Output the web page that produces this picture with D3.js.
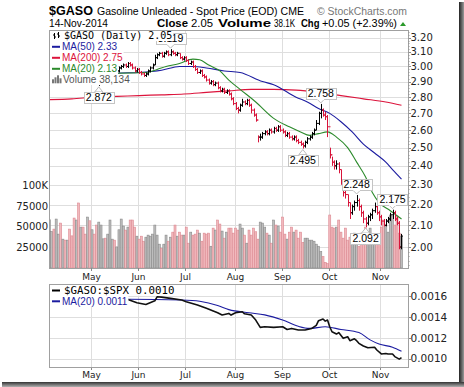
<!DOCTYPE html>
<html><head><meta charset="utf-8">
<script src="https://cdn.jsdelivr.net/npm/d3@7"></script>
<style>body{margin:0;background:#fff}svg{display:block}</style>
</head><body>
<svg id="c" width="464" height="387"></svg>
<script>
// ---------- DATA ----------
const monthLabels = ["May","Jun","Jul","Aug","Sep","Oct","Nov"];
const monthStartDay = [19,40,61,83,104,125,148];   // trading-day index of first session of month
const priceTicks = [2.00,2.10,2.20,2.30,2.40,2.50,2.60,2.70,2.80,2.90,3.00,3.10,3.20];
const volumeTicks = [25,50,75,100];                 // thousands
const volumeTickLabels = ["25000","50000","75000","100K"];
const ratioTicks = [0.0010,0.0012,0.0014,0.0016];

const close = [2.98,3.00,2.99,3.02,3.03,3.01,3.04,3.02,3.05,3.03,
3.00,2.98,2.99,2.96,2.97,2.95,2.93,2.94,2.92,2.93,
2.91,2.90,2.90,2.92,2.94,2.93,2.95,2.96,2.98,2.97,
2.97,2.99,3.00,3.01,3.00,3.02,3.01,2.99,2.97,2.98,
2.96,2.95,2.94,2.95,2.97,2.99,3.01,3.06,3.08,3.09,
3.07,3.09,3.10,3.08,3.10,3.09,3.08,3.09,3.06,3.05,
3.06,3.04,3.02,3.03,3.00,2.98,2.96,2.97,2.94,2.93,
2.91,2.89,2.90,2.88,2.89,2.86,2.84,2.85,2.83,2.84,
2.82,2.79,2.76,2.73,2.72,2.75,2.77,2.76,2.78,2.75,
2.72,2.69,2.66,2.56,2.56,2.58,2.59,2.58,2.60,2.59,
2.61,2.60,2.62,2.60,2.59,2.57,2.58,2.56,2.55,2.56,
2.54,2.53,2.52,2.51,2.53,2.55,2.56,2.58,2.60,2.64,
2.70,2.72,2.69,2.68,2.62,2.46,2.42,2.40,2.41,2.38,
2.32,2.26,2.25,2.21,2.16,2.19,2.21,2.22,2.19,2.16,
2.13,2.11,2.14,2.15,2.17,2.19,2.16,2.14,2.12,2.10,
2.12,2.13,2.15,2.16,2.13,2.11,2.00,2.05];

const high = [2.99,3.01,3.01,3.03,3.04,3.04,3.05,3.05,3.06,3.06,
3.04,3.01,3.00,3.00,2.98,2.98,2.96,2.95,2.95,2.94,
2.94,2.92,2.91,2.93,2.95,2.95,2.96,2.97,2.99,2.99,
2.99,3.00,3.01,3.02,3.02,3.03,3.03,3.02,3.00,2.99,
2.99,2.97,2.96,2.96,2.98,3.00,3.02,3.08,3.09,3.10,
3.10,3.10,3.11,3.11,3.119,3.11,3.10,3.10,3.09,3.07,
3.07,3.07,3.05,3.04,3.04,3.01,2.99,2.98,2.98,2.95,
2.94,2.92,2.91,2.91,2.90,2.90,2.87,2.86,2.86,2.85,
2.85,2.83,2.80,2.77,2.74,2.76,2.79,2.78,2.79,2.79,
2.76,2.73,2.70,2.57,2.58,2.59,2.60,2.60,2.61,2.61,
2.62,2.62,2.63,2.63,2.61,2.60,2.59,2.59,2.57,2.57,
2.57,2.55,2.54,2.53,2.54,2.56,2.57,2.59,2.61,2.66,
2.71,2.758,2.73,2.71,2.69,2.50,2.45,2.43,2.43,2.42,
2.38,2.33,2.27,2.25,2.21,2.20,2.22,2.248,2.23,2.20,
2.17,2.14,2.15,2.16,2.18,2.21,2.20,2.17,2.15,2.13,
2.13,2.14,2.16,2.175,2.17,2.14,2.12,2.06];

const low = [2.96,2.97,2.98,2.98,3.01,3.00,3.00,3.01,3.01,3.02,
2.99,2.97,2.97,2.95,2.95,2.94,2.92,2.92,2.91,2.91,
2.90,2.885,2.872,2.89,2.91,2.92,2.92,2.94,2.95,2.96,
2.96,2.96,2.98,2.99,2.99,2.99,3.00,2.98,2.96,2.96,
2.95,2.94,2.93,2.93,2.94,2.96,2.98,3.01,3.05,3.07,
3.06,3.06,3.08,3.07,3.07,3.08,3.07,3.07,3.05,3.04,
3.04,3.03,3.01,3.01,2.99,2.97,2.95,2.95,2.93,2.92,
2.90,2.88,2.88,2.87,2.87,2.85,2.83,2.83,2.82,2.82,
2.81,2.78,2.75,2.72,2.70,2.71,2.74,2.75,2.75,2.74,
2.70,2.68,2.65,2.53,2.54,2.55,2.57,2.57,2.57,2.58,
2.58,2.59,2.59,2.59,2.58,2.56,2.56,2.55,2.54,2.54,
2.53,2.52,2.51,2.495,2.50,2.52,2.54,2.55,2.57,2.60,
2.63,2.67,2.68,2.66,2.56,2.44,2.40,2.38,2.38,2.36,
2.30,2.24,2.23,2.19,2.13,2.15,2.17,2.19,2.17,2.14,
2.11,2.092,2.10,2.12,2.13,2.16,2.15,2.12,2.10,2.095,
2.095,2.11,2.12,2.13,2.12,2.10,1.99,1.99];

const volume = [58.6,44.3,47.2,59.4,41.1,54.5,35.0,33.8,33.8,47.2,
39.0,60.6,58.2,78.9,49.6,49.6,41.1,61.8,57.3,46.4,
41.1,52.1,55.7,52.1,35.4,36.2,41.1,58.2,35.0,33.8,
25.6,46.4,59.4,50.9,46.0,49.6,58.2,58.2,49.6,38.6,
35.0,38.6,32.5,37.4,39.9,38.6,41.1,52.1,39.9,28.9,
24.0,28.9,39.9,32.5,37.4,43.5,52.1,38.6,43.5,39.9,
39.9,49.6,30.1,43.5,39.9,41.1,46.0,42.3,32.5,42.3,
41.1,42.3,26.4,48.4,46.0,58.2,53.3,44.8,36.2,
43.5,48.4,48.4,42.3,48.4,46.0,53.3,48.4,39.9,30.1,
46.0,39.9,48.4,44.0,35.0,55.7,54.5,49.6,42.3,39.9,
30.1,58.2,52.1,50.9,43.5,61.8,41.1,35.0,43.5,49.6,
43.5,46.0,36.2,43.5,31.0,36.2,36.2,33.8,33.8,32.5,
28.9,26.4,19.9,13.8,6.9,5.3,
64.3,49.6,48.4,49.6,58.2,43.5,36.2,48.4,33.8,37.4,
36.2,42.3,36.2,26.4,42.3,30.1,49.6,42.3,48.4,33.8,
37.4,41.1,35.0,49.6,58.2,52.1,43.5,64.3,63.1,52.1,
63.1,42.3,38.134];

const ma20Days = [0,10,20,30,43,48,52,58,64,67,71,76,80,85,92,100,107,112,116,120,124,128,133,137,141,144,147,152,157];
const ma20 =     [2.96,2.99,2.96,2.955,2.96,2.98,3.00,3.02,3.05,3.045,3.01,2.97,2.91,2.85,2.77,2.67,2.62,2.59,2.57,2.58,2.59,2.56,2.50,2.42,2.34,2.26,2.21,2.17,2.13];
const ma50Days = [0,10,20,30,40,50,58,64,70,78,85,95,100,110,115,120,125,130,135,140,145,150,153,157];
const ma50 =     [2.89,2.92,2.94,2.955,2.96,2.975,3.00,3.00,2.99,2.97,2.96,2.90,2.88,2.80,2.77,2.73,2.70,2.65,2.59,2.52,2.47,2.42,2.38,2.33];
const ma200Days = [0,10,20,30,40,50,60,70,80,90,100,110,120,130,140,150,157];
const ma200 =     [2.785,2.79,2.80,2.805,2.81,2.815,2.82,2.83,2.84,2.85,2.85,2.845,2.83,2.81,2.79,2.77,2.75];

const ratioDays = [0,12,24,35,39,43,47,48,50,54,59,61,66,70,75,77,80,81,83,86,87,90,92,94,96,100,104,106,108,111,114,117,119,120,122,123,124,125,126,128,129,131,133,134,136,137,138,140,142,145,146,148,150,151,153,154,156,157];
const ratio = [0.00152,0.00156,0.00155,0.001568,0.001536,0.00152,0.001555,0.001593,0.00159,0.001578,0.001562,0.001546,0.001514,0.001483,0.00144,0.001418,0.001434,0.001418,0.00144,0.00145,0.00143,0.001418,0.00137,0.0013,0.001306,0.0013,0.001306,0.00128,0.00129,0.001275,0.001275,0.00129,0.00132,0.001364,0.00138,0.00136,0.00137,0.001306,0.001258,0.001236,0.00125,0.001195,0.00121,0.001172,0.00119,0.001172,0.001147,0.001122,0.001105,0.00111,0.001083,0.001045,0.00105,0.001045,0.001045,0.00102,0.000995,0.00101];
const ratioMaDays = [0,20,35,59,67,75,80,89,96,104,111,116,123,130,138,143,147,153,157];
const ratioMa = [0.00156,0.00157,0.00157,0.001562,0.00155,0.00151,0.00147,0.00144,0.00142,0.00137,0.00131,0.00129,0.001306,0.00128,0.00125,0.00118,0.00114,0.00111,0.00107];

const annDays = [22,54,121,113,137,141,153];
const annValues = [2.872,3.119,2.758,2.495,2.248,2.092,2.175];
const annKinds = ["low","high","high","low","high","low","high"];

// ---------- LAYOUT ----------
const svg = d3.select("#c");
const P = {l:49, r:408, t:30, b:268};
const Q = {t:284, b:367};
const RED = "#d8143a", NAVY = "#1c1ca0", CRIM = "#dc143c", GREEN = "#2b8a2b";
const GRID = "#dedede", BORDER = "#a0a0a0";

const x = d3.scaleLinear().domain([-0.2,159.9]).range([P.l,P.r]);
const yP = d3.scaleLog().domain([1.908,3.256]).range([P.b,P.t]);
const yV = d3.scaleLinear().domain([0,100]).range([P.b,185.6]);
const yR = d3.scaleLinear().domain([0.00092,0.001716]).range([Q.b,Q.t]);

svg.append("rect").attr("width",464).attr("height",387).attr("fill","#fff");
const defs = svg.append("defs");
defs.append("clipPath").attr("id","cp").append("rect").attr("x",P.l).attr("y",P.t).attr("width",P.r-P.l).attr("height",P.b-P.t);
defs.append("clipPath").attr("id","cq").append("rect").attr("x",P.l).attr("y",Q.t).attr("width",P.r-P.l).attr("height",Q.b-Q.t);

// ---------- MAIN PANEL ----------
const g = svg.append("g").attr("clip-path","url(#cp)");
g.selectAll(".hg").data(priceTicks).join("line")
  .attr("x1",P.l).attr("x2",P.r).attr("y1",d=>Math.round(yP(d))+0.5).attr("y2",d=>Math.round(yP(d))+0.5)
  .attr("stroke",GRID).attr("stroke-width",1);
g.selectAll(".vg").data(monthStartDay).join("line")
  .attr("x1",d=>Math.round(x(d-0.4))+0.5).attr("x2",d=>Math.round(x(d-0.4))+0.5).attr("y1",P.t).attr("y2",P.b)
  .attr("stroke",GRID).attr("stroke-width",1);

const down = close.map((c,i)=> i>0 && c < close[i-1]);
g.selectAll(".vol").data(volume).join("rect")
  .attr("x",(d,i)=>x(i)-1).attr("width",2)
  .attr("y",d=>yV(d)).attr("height",d=>P.b-yV(d))
  .attr("fill",(d,i)=>down[i]?"#f1b9bd":"#bdbdbd")
  .attr("stroke",(d,i)=>down[i]?"#dc8891":"#8a8a8a").attr("stroke-width",0.6);

function maLine(days, vals, color, w){
  g.append("path").datum(days.map((d,i)=>[d,vals[i]]))
   .attr("d", d3.line().x(d=>x(d[0])).y(d=>yP(d[1])).curve(d3.curveMonotoneX))
   .attr("fill","none").attr("stroke",color).attr("stroke-width",w);
}
maLine(ma200Days, ma200, CRIM, 1.2);
maLine(ma50Days, ma50, NAVY, 1.1);
maLine(ma20Days, ma20, GREEN, 1.1);

const bars = g.append("g").attr("stroke-width",1);
close.forEach((c,i)=>{
  const xi = Math.round(x(i))+0.5;
  const col = down[i] ? RED : "#000";
  const op = i>0 ? close[i-1] : c;
  bars.append("line").attr("x1",xi).attr("x2",xi).attr("y1",yP(high[i])).attr("y2",yP(low[i])).attr("stroke",col);
  bars.append("line").attr("x1",xi).attr("x2",xi+1.5).attr("y1",yP(c)).attr("y2",yP(c)).attr("stroke",col);
  bars.append("line").attr("x1",xi-1.5).attr("x2",xi).attr("y1",yP(op)).attr("y2",yP(op)).attr("stroke",col);
});

// annotations
const ag = svg.append("g");
annDays.forEach((d,k)=>{
  const v = annValues[k], kind = annKinds[k];
  const bx = x(d), by = yP(v);
  const t = ag.append("text").attr("font-family","Liberation Sans, Arial, sans-serif").attr("font-size",10.5)
     .attr("text-anchor","middle").attr("x",bx).text(v.toFixed(3));
  const tw = t.node().getComputedTextLength();
  const bw = tw+4, bh = 11;
  let top, tipY, baseY;
  if(kind==="high"){ top = by-5-bh; baseY = top+bh; tipY = by-1; }
  else { top = by+6; baseY = top; tipY = by+1; }
  const bl = Math.round(bx-bw/2)+0.5, tt = Math.round(top)+0.5;
  ag.insert("polygon","text").attr("points",`${bx-4},${baseY} ${bx},${tipY} ${bx+4},${baseY}`)
    .attr("fill","#fff").attr("stroke","#bbb").attr("stroke-width",1);
  ag.insert("rect","text").attr("x",bl).attr("y",tt).attr("width",Math.round(bw)).attr("height",bh)
    .attr("fill","#fff").attr("stroke","#c4c4c4").attr("stroke-width",1);
  ag.insert("line","text").attr("x1",bx-3.3).attr("x2",bx+3.3).attr("y1",kind==="high"?tt+bh:tt).attr("y2",kind==="high"?tt+bh:tt)
    .attr("stroke","#fff").attr("stroke-width",1.2);
  t.attr("y",top+bh-2);
});

// legend (main)
const lg = svg.append("g");
function legendLine(baseline, txt, color, font, size, tx){
  const bg = lg.append("rect").attr("fill","#fff");
  const t = lg.append("text").attr("x",tx).attr("y",baseline).attr("font-family",font).attr("font-size",size)
    .attr("fill",color).text(txt);
  const w = t.node().getComputedTextLength();
  bg.attr("x",P.l+1).attr("y",baseline-9.3).attr("width",tx+w+1-(P.l+1)).attr("height",11);
  return t;
}
const MONO = "DejaVu Sans Mono, monospace", SANS = "Liberation Sans, Arial, sans-serif";
legendLine(39.3, "$GASO (Daily) 2.05", "#000", MONO, 10, 64);
legendLine(50.3, "MA(50) 2.33", NAVY, SANS, 10, 62);
legendLine(61.3, "MA(200) 2.75", CRIM, SANS, 10, 62);
legendLine(72.3, "MA(20) 2.13", GREEN, SANS, 10, 62);
legendLine(83.3, "Volume 38,134", "#555", SANS, 10, 63);
// icons
[[54.5,33,39,35,37],[58.5,32,38,34,36]].forEach(b=>{
  lg.append("line").attr("x1",b[0]).attr("x2",b[0]).attr("y1",b[1]).attr("y2",b[2]).attr("stroke","#000");
  lg.append("line").attr("x1",b[0]-1.5).attr("x2",b[0]).attr("y1",b[3]).attr("y2",b[3]).attr("stroke","#000");
  lg.append("line").attr("x1",b[0]).attr("x2",b[0]+1.5).attr("y1",b[4]).attr("y2",b[4]).attr("stroke","#000");
});
[[50.3,NAVY],[61.3,CRIM],[72.3,GREEN]].forEach(a=>{
  lg.append("line").attr("x1",52).attr("x2",60).attr("y1",a[0]-3.5).attr("y2",a[0]-3.5).attr("stroke",a[1]).attr("stroke-width",2);
});
[[52,4],[54.5,6],[57,8],[59.5,5]].forEach(b=>{
  lg.append("rect").attr("x",b[0]).attr("y",83.3-b[1]).attr("width",2).attr("height",b[1]).attr("fill","#777");
});

// frame & axes main
svg.append("rect").attr("x",P.l+0.5).attr("y",P.t+0.5).attr("width",P.r-P.l).attr("height",P.b-P.t)
  .attr("fill","none").attr("stroke",BORDER);
const ax = svg.append("g").attr("font-family","DejaVu Sans, Verdana, sans-serif").attr("font-size",10).attr("fill","#222");
priceTicks.forEach(v=>{
  const yy = Math.round(yP(v))+0.5;
  ax.append("line").attr("x1",P.r).attr("x2",P.r+3).attr("y1",yy).attr("y2",yy).attr("stroke","#888");
  ax.append("text").attr("x",P.r+2.5).attr("y",yP(v)).attr("dy","0.36em").text(v.toFixed(2));
});
d3.range(1.92,3.25,0.02).forEach(v=>{
  const yy = Math.round(yP(v))+0.5;
  ax.append("line").attr("x1",P.r).attr("x2",P.r+1.5).attr("y1",yy).attr("y2",yy).attr("stroke","#999");
});
volumeTicks.forEach((v,i)=>{
  ax.append("text").attr("x",P.l-1).attr("y",yV(v)).attr("dy","0.36em").attr("text-anchor","end").text(volumeTickLabels[i]);
});
monthStartDay.forEach((d,i)=>{
  const xx = Math.round(x(d-0.4))+0.5;
  ax.append("line").attr("x1",xx).attr("x2",xx).attr("y1",P.b).attr("y2",P.b+3).attr("stroke","#888");
  ax.append("line").attr("x1",xx).attr("x2",xx).attr("y1",Q.b).attr("y2",Q.b+3).attr("stroke","#888");
  ax.append("text").attr("x",xx).attr("y",279.5).attr("text-anchor","middle").attr("font-size",9).text(monthLabels[i]);
  ax.append("text").attr("x",xx).attr("y",377.5).attr("text-anchor","middle").attr("font-size",9).text(monthLabels[i]);
});

// ---------- LOWER PANEL ----------
const h = svg.append("g").attr("clip-path","url(#cq)");
h.selectAll(".hg2").data(ratioTicks).join("line")
  .attr("x1",P.l).attr("x2",P.r).attr("y1",d=>Math.round(yR(d))+0.5).attr("y2",d=>Math.round(yR(d))+0.5)
  .attr("stroke",GRID);
h.selectAll(".vg2").data(monthStartDay).join("line")
  .attr("x1",d=>Math.round(x(d-0.4))+0.5).attr("x2",d=>Math.round(x(d-0.4))+0.5).attr("y1",Q.t).attr("y2",Q.b)
  .attr("stroke",GRID);
h.append("path").datum(ratioMaDays.map((d,i)=>[d,ratioMa[i]]))
  .attr("d",d3.line().x(d=>x(d[0])).y(d=>yR(d[1])).curve(d3.curveMonotoneX))
  .attr("fill","none").attr("stroke",NAVY).attr("stroke-width",1.1);
h.append("path").datum(ratioDays.map((d,i)=>[d,ratio[i]]))
  .attr("d",d3.line().x(d=>x(d[0])).y(d=>yR(d[1])))
  .attr("fill","none").attr("stroke","#111").attr("stroke-width",1.6).attr("stroke-linejoin","round");

const lg2 = svg.append("g");
function legendLine2(baseline, txt, color, font, size, tx){
  const bg = lg2.append("rect").attr("fill","#fff");
  const t = lg2.append("text").attr("x",tx).attr("y",baseline).attr("font-family",font).attr("font-size",size)
    .attr("fill",color).text(txt);
  const w = t.node().getComputedTextLength();
  bg.attr("x",P.l+1).attr("y",baseline-9.3).attr("width",tx+w+1-(P.l+1)).attr("height",11);
}
legendLine2(294, "$GASO:$SPX 0.0010", "#000", MONO, 10.8, 64);
legendLine2(304.8, "MA(20) 0.0011", NAVY, SANS, 10, 62);
lg2.append("line").attr("x1",52).attr("x2",60).attr("y1",290.5).attr("y2",290.5).attr("stroke","#000").attr("stroke-width",2);
lg2.append("line").attr("x1",52).attr("x2",60).attr("y1",301.3).attr("y2",301.3).attr("stroke",NAVY).attr("stroke-width",2);

svg.append("rect").attr("x",P.l+0.5).attr("y",Q.t+0.5).attr("width",P.r-P.l).attr("height",Q.b-Q.t)
  .attr("fill","none").attr("stroke",BORDER);
ratioTicks.forEach(v=>{
  const yy = Math.round(yR(v))+0.5;
  ax.append("line").attr("x1",P.r).attr("x2",P.r+3).attr("y1",yy).attr("y2",yy).attr("stroke","#888");
  ax.append("text").attr("x",P.r+2.5).attr("y",yR(v)).attr("dy","0.36em").attr("font-size",10.5).text(v.toFixed(4));
});

// ---------- TITLE ----------
const tt = svg.append("g").attr("font-family",SANS).attr("fill","#000");
tt.append("text").attr("x",49).attr("y",15).attr("font-size",13.5).attr("font-weight","bold")
  .attr("textLength",44).attr("lengthAdjust","spacingAndGlyphs").text("$GASO");
tt.append("text").attr("x",97).attr("y",14.5).attr("font-size",10.5)
  .attr("textLength",207).attr("lengthAdjust","spacingAndGlyphs").text("Gasoline Unleaded - Spot Price (EOD)  CME");
tt.append("text").attr("x",317).attr("y",14.5).attr("font-size",10).attr("fill","#777")
  .attr("textLength",90).attr("lengthAdjust","spacingAndGlyphs").text("© StockCharts.com");
tt.append("text").attr("x",49).attr("y",26.5).attr("font-size",10.5)
  .attr("textLength",59).attr("lengthAdjust","spacingAndGlyphs").text("14-Nov-2014");
[["Close",157,31,true],["2.05",191,22,false],["Volume",218,53,true],["38.1K",274,21,false],["Chg",301,18.5,true],["+0.05 (+2.39%)",322,75,false]]
 .forEach(s=>{
   tt.append("text").attr("x",s[1]).attr("y",26.5).attr("font-size",11).attr("font-weight",s[3]?"bold":"normal")
     .attr("textLength",s[2]).attr("lengthAdjust","spacingAndGlyphs").text(s[0]);
 });
tt.append("polygon").attr("points","400,26 403,22 406,26").attr("fill","#2a9a2a");

// ---------- SHADOW FRAME ----------
const gr1 = defs.append("linearGradient").attr("id","shr").attr("x1",0).attr("x2",1).attr("y1",0).attr("y2",0);
gr1.append("stop").attr("offset",0).attr("stop-color","#222");
gr1.append("stop").attr("offset",1).attr("stop-color","#9a9a9a");
const gr2 = defs.append("linearGradient").attr("id","shb").attr("x1",0).attr("x2",0).attr("y1",0).attr("y2",1);
gr2.append("stop").attr("offset",0).attr("stop-color","#333");
gr2.append("stop").attr("offset",1).attr("stop-color","#b0b0b0");
svg.append("rect").attr("x",459).attr("y",2).attr("width",5).attr("height",385).attr("fill","url(#shr)");
svg.append("rect").attr("x",2).attr("y",382).attr("width",462).attr("height",5).attr("fill","url(#shb)");
</script>
</body></html>
